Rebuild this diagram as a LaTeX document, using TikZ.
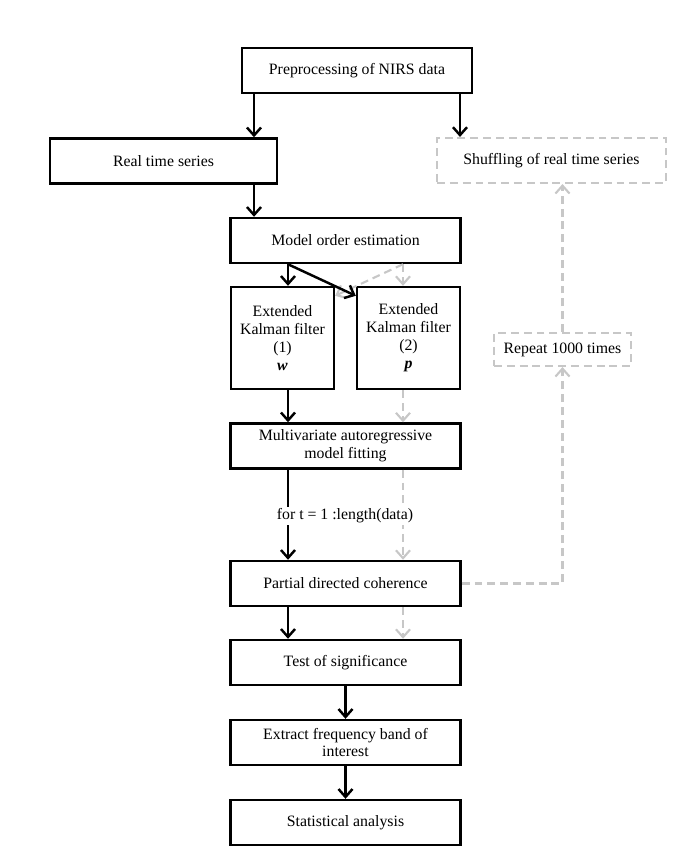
\documentclass[tikz,border=0pt]{standalone}
\usepackage{fontspec}
\setmainfont{Liberation Serif}
\usetikzlibrary{arrows.meta}
\tikzset{>={Straight Barb[length=4.5pt,width=8pt]}}
\tikzset{
  stagebox/.style={draw, line width=1.4pt, minimum width=4.6cm, minimum height=0.9cm,
    inner sep=1pt, align=center, font=\fontsize{9}{10.2}\selectfont},
  kalmanbox/.style={stagebox, minimum width=2.06cm, minimum height=2.04cm},
  shufbox/.style={stagebox, line width=1.2pt, draw=black!22, dash pattern=on 4.5pt off 2.8pt},
  flow/.style={->, line width=1.4pt},
  nullflow/.style={->, line width=1.2pt, draw=black!22, dash pattern=on 4.5pt off 2.8pt}
}

\begin{document}
\begin{tikzpicture}[x=0.02cm, y=-0.02cm]
\useasboundingbox (0,0) rectangle (700,866);
% boxes
\node[stagebox] (pre) at (357,70.5) {Preprocessing of NIRS data};
\node[stagebox, minimum width=4.54cm] (real) at (163.5,161) {Real time series};
\node[shufbox, minimum width=4.58cm] (shuf) at (551.5,160.5) {Shuffling of real time series};
\node[stagebox] (model) at (345.5,240.5) {Model order estimation};
\node[kalmanbox] (kf1) at (282.5,338) {Extended\\Kalman filter\\(1)\\\textbf{\textit{w}}};
\node[kalmanbox] (kf2) at (408.5,338) {Extended\\Kalman filter\\(2)\\\textbf{\textit{p}}};
\node[stagebox] (mvar) at (345.5,446) {Multivariate autoregressive\\model fitting};
\node[stagebox] (pdc) at (345.5,583.5) {Partial directed coherence};
\node[stagebox] (test) at (345.5,662.5) {Test of significance};
\node[stagebox] (band) at (345.5,742.5) {Extract frequency band of\\interest};
\node[stagebox] (stat) at (345.5,822.5) {Statistical analysis};
\node[shufbox, minimum width=2.74cm, minimum height=0.66cm] (rep) at (562.5,349.5) {Repeat 1000 times};
% columns of the arrows
\coordinate (ca) at (254,0);
\coordinate (cb) at (460,0);
\coordinate (cl) at (288,0);
\coordinate (cr) at (403,0);
% surrogate path
\draw[nullflow] (model.south -| cr) -- ([yshift=-0.2cm]kf1.north east);
\draw[nullflow] (model.south -| cr) -- (kf2.north -| cr);
\draw[nullflow] (kf2.south -| cr) -- (mvar.north -| cr);
\draw[nullflow] (mvar.south -| cr) -- (pdc.north -| cr);
\draw[nullflow] (pdc.south -| cr) -- (test.north -| cr);
\draw[nullflow] (pdc.east) -| (rep.south);
\draw[nullflow] (rep.north) -- (rep.north |- shuf.south);
% real path
\draw[flow] (pre.south -| ca) -- (real.north -| ca);
\draw[flow] (pre.south -| cb) -- (shuf.north -| cb);
\draw[flow] (real.south -| ca) -- (model.north -| ca);
\draw[flow] (model.south -| cl) -- (kf1.north -| cl);
\draw[flow] (model.south -| cl) -- ([yshift=-0.2cm]kf2.north west);
\draw[flow] (kf1.south -| cl) -- (mvar.north -| cl);
\draw[flow] (mvar.south -| cl) -- (pdc.north -| cl);
\draw[flow] (pdc.south -| cl) -- (test.north -| cl);
\draw[flow] (test) -- (band);
\draw[flow] (band) -- (stat);
\node[fill=white, inner sep=1pt, font=\fontsize{9}{10.2}\selectfont] (loop) at (345,516) {for t = 1 :length(data)};
\end{tikzpicture}
\end{document}
